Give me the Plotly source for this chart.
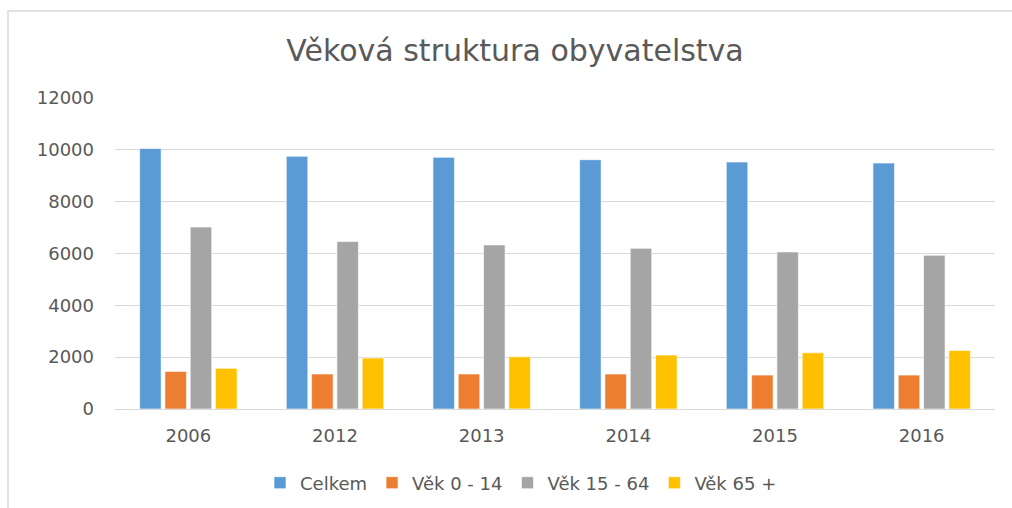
import plotly.graph_objects as go

years = ["2006", "2012", "2013", "2014", "2015", "2016"]
celkem = [10050, 9750, 9710, 9620, 9530, 9490]
vek_0_14 = [1450, 1350, 1350, 1350, 1310, 1310]
vek_15_64 = [7020, 6460, 6330, 6200, 6060, 5930]
vek_65 = [1570, 1965, 2015, 2080, 2170, 2260]

series = [
    ("Celkem", celkem, "#5B9BD5"),
    ("Věk 0 - 14", vek_0_14, "#ED7D31"),
    ("Věk 15 - 64", vek_15_64, "#A5A5A5"),
    ("Věk 65 +", vek_65, "#FFC000"),
]

FONT = "DejaVu Sans"
TXT = "#595959"

fig = go.Figure()
for name, vals, col in series:
    fig.add_trace(go.Bar(x=years, y=vals, name=name, marker_color=col,
                         marker_line_color="rgba(255,255,255,0.6)", marker_line_width=1))

fig.update_layout(
    width=1012, height=508,
    margin=dict(l=115, r=17, t=98, b=99, autoexpand=False),
    paper_bgcolor="white", plot_bgcolor="white",
    barmode="group", bargap=0.31, bargroupgap=0.15,
    font=dict(family=FONT, color=TXT),
    title=dict(text="Věková struktura obyvatelstva", x=515 / 1012, xanchor="center", xref="container",
               y=1 - 50 / 508, yanchor="middle", yref="container",
               font=dict(size=30, color=TXT, family=FONT)),
    legend=dict(orientation="h", x=521 / 1012, xanchor="center", xref="container",
                y=1 - 483 / 508, yanchor="middle", yref="container",
                font=dict(size=18, color=TXT), itemwidth=30, traceorder="normal"),
    showlegend=True,
)
fig.update_yaxes(range=[0, 12000], dtick=2000, gridcolor="#D9D9D9", gridwidth=1,
                 zeroline=False, showline=False, tickfont=dict(size=18, color=TXT),
                 ticklabelstandoff=20, tickformat="d")
fig.update_xaxes(showline=True, linecolor="#D9D9D9", linewidth=1, ticks="",
                 tickfont=dict(size=18, color=TXT), ticklabelstandoff=10)

fig.add_shape(type="rect", xref="paper", yref="paper",
              x0=(8 - 115) / 880, x1=1.2, y0=-0.5, y1=1 + (98 - 11) / 311,
              line=dict(color="#D9D9D9", width=1.5), fillcolor="rgba(0,0,0,0)", layer="below")

fig.write_html("out.html", config={"displayModeBar": False},
               post_script="document.body.style.margin='0';")
